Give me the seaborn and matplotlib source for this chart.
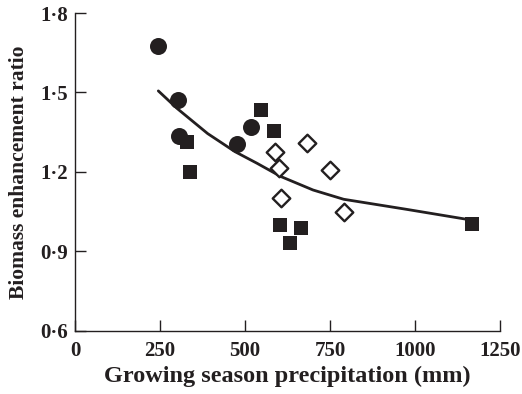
import numpy as np
import pandas as pd
import seaborn as sns
from matplotlib import pyplot as plt
from matplotlib.ticker import FuncFormatter

# filled circles
circle_x = [244, 302, 306, 476, 519]
circle_y = [1.677, 1.470, 1.336, 1.305, 1.369]
# filled squares
square_x = [328, 339, 548, 584, 604, 632, 664, 1168]
square_y = [1.313, 1.200, 1.433, 1.355, 1.000, 0.931, 0.987, 1.005]
# open diamonds
diamond_x = [589, 599, 605, 682, 751, 792]
diamond_y = [1.277, 1.215, 1.100, 1.311, 1.206, 1.048]
# fitted curve
fit_x = [245, 300, 390, 470, 535, 605, 700, 790, 975, 1168]
fit_y = [1.506, 1.440, 1.345, 1.277, 1.233, 1.183, 1.132, 1.097, 1.059, 1.018]

ink = '#231f20'

sns.set_style('ticks')
plt.rcParams['font.family'] = ['Liberation Serif', 'DejaVu Serif']
plt.rcParams['font.weight'] = 'bold'

fig = plt.figure(figsize=(5.22, 3.94), dpi=100)
ax = fig.add_axes([0.1437, 0.16, 0.8143, 0.807])

fit = pd.DataFrame(dict(x=fit_x, y=fit_y))
sns.lineplot(x='x', y='y', data=fit, color=ink, linewidth=2, ax=ax, sort=True)

circ = pd.DataFrame(dict(x=circle_x, y=circle_y))
sns.scatterplot(x='x', y='y', data=circ, marker='o', s=150, color=ink,
                edgecolor=ink, linewidth=0, ax=ax, zorder=3)
sq = pd.DataFrame(dict(x=square_x, y=square_y))
sns.scatterplot(x='x', y='y', data=sq, marker='s', s=110, color=ink,
                edgecolor=ink, linewidth=0, ax=ax, zorder=3)
dia = pd.DataFrame(dict(x=diamond_x, y=diamond_y))
sns.scatterplot(x='x', y='y', data=dia, marker='D', s=80, facecolor='white',
                edgecolor=ink, linewidth=1.7, ax=ax, zorder=3)

ax.set_xlim(0, 1250)
ax.set_ylim(0.6, 1.8)
ax.set_xticks([0, 250, 500, 750, 1000, 1250])
ax.set_yticks([0.6, 0.9, 1.2, 1.5, 1.8])
ax.yaxis.set_major_formatter(FuncFormatter(lambda v, p: f'{v:.1f}'.replace('.', '\u00b7')))
ax.tick_params(direction='in', length=8, width=1, colors=ink, labelsize=15)
ax.tick_params(axis='x', pad=7)
ax.tick_params(axis='y', pad=5)
for t in ax.xaxis.get_major_ticks() + ax.yaxis.get_major_ticks():
    t.label1.set_fontweight('bold')
sns.despine(ax=ax)
for sp in ['left', 'bottom']:
    ax.spines[sp].set_color(ink)
    ax.spines[sp].set_linewidth(1)

ax.set_xlabel('Growing season precipitation (mm)', fontsize=17.5, fontweight='bold', color=ink, labelpad=4)
ax.set_ylabel('Biomass enhancement ratio', fontsize=15.5, fontweight='bold', color=ink, labelpad=8)

plt.savefig('out.png', dpi=100)
plt.close()
